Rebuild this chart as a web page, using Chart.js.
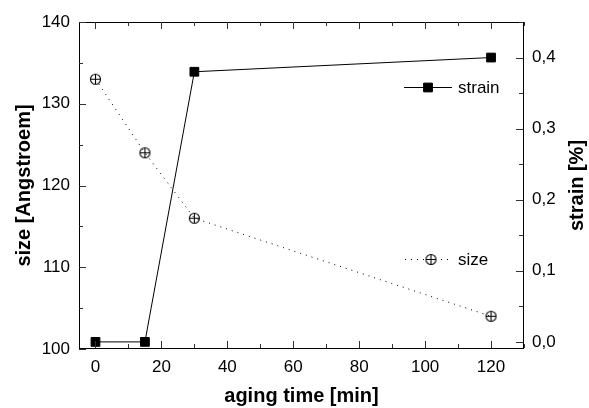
<!DOCTYPE html>
<html>
<head>
<meta charset="utf-8">
<script src="https://cdn.jsdelivr.net/npm/chart.js@4.4.0/dist/chart.umd.min.js"></script>
<style>
html, body { margin: 0; padding: 0; background: #fff; }
</style>
</head>
<body>
<canvas id="myChart" width="589" height="408"></canvas>
<script>
var agingTime = [0, 15, 30, 120];
var sizeValues = [133, 124, 116, 104];
var strainValues = [0.0, 0.0, 0.38, 0.40];
var timeTicks = [0, 20, 40, 60, 80, 100, 120];
var sizeTicks = [100, 110, 120, 130, 140];
var strainTicks = [0.0, 0.1, 0.2, 0.3, 0.4];

var fontFamily = "'Liberation Sans', Arial, sans-serif";

// circle with a plus inside, like the Origin symbol
function circlePlus() {
    var c = document.createElement('canvas');
    c.width = 13; c.height = 13;
    var g = c.getContext('2d');
    g.strokeStyle = '#000';
    g.lineWidth = 1.1;
    g.beginPath();
    g.arc(6.5, 6.5, 5, 0, Math.PI * 2);
    g.stroke();
    g.beginPath();
    g.moveTo(1.5, 6.5); g.lineTo(11.5, 6.5);
    g.moveTo(6.5, 1.5); g.lineTo(6.5, 11.5);
    g.stroke();
    return c;
}
var sizeSymbol = circlePlus();

function points(xs, ys) {
    return xs.map(function (x, i) { return { x: x, y: ys[i] }; });
}

function setTicks(values) {
    return function (scale) {
        scale.ticks = values.map(function (v) { return { value: v }; });
    };
}

// frame and inward ticks on all four sides
var framePlugin = {
    id: 'frame',
    afterDraw: function (chart) {
        var ctx = chart.ctx, a = chart.chartArea;
        var sx = chart.scales.x, sy = chart.scales.y, s2 = chart.scales.y2;
        ctx.save();
        ctx.strokeStyle = '#000';
        ctx.lineWidth = 1;
        ctx.strokeRect(Math.round(a.left) + 0.5, Math.round(a.top) + 0.5,
            Math.round(a.right - a.left) - 1, Math.round(a.bottom - a.top) - 1);

        function vticks(scale, values, x, dir) {
            var step = values[1] - values[0];
            for (var v = values[0] - step / 2; v <= scale.max + 1e-9; v += step / 2) {
                if (v < scale.min - 1e-9) continue;
                var major = values.some(function (m) { return Math.abs(m - v) < 1e-6; });
                var y = Math.round(scale.getPixelForValue(v)) + 0.5;
                ctx.beginPath();
                ctx.moveTo(x, y);
                ctx.lineTo(x + dir * (major ? 7 : 4), y);
                ctx.stroke();
            }
        }
        function hticks(scale, values, y, dir) {
            var step = values[1] - values[0];
            for (var v = values[0] - step / 2; v <= scale.max + 1e-9; v += step / 2) {
                if (v < scale.min - 1e-9) continue;
                var major = values.some(function (m) { return Math.abs(m - v) < 1e-6; });
                var x = Math.round(scale.getPixelForValue(v)) + 0.5;
                ctx.beginPath();
                ctx.moveTo(x, y);
                ctx.lineTo(x, y + dir * (major ? 7 : 4));
                ctx.stroke();
            }
        }
        ctx.strokeStyle = '#333';
        vticks(sy, sizeTicks, Math.round(a.left), 1);
        vticks(s2, strainTicks, Math.round(a.right) - 1, -1);
        hticks(sx, timeTicks, Math.round(a.bottom) - 1, -1);
        hticks(sx, timeTicks, Math.round(a.top), 1);

        // right axis title, reading bottom to top like the left one
        ctx.fillStyle = '#000';
        ctx.font = 'bold 20px ' + fontFamily;
        ctx.textAlign = 'center';
        ctx.textBaseline = 'middle';
        ctx.translate(577, (a.top + a.bottom) / 2);
        ctx.rotate(-Math.PI / 2);
        ctx.fillText('strain [%]', 0, 0);
        ctx.restore();
    }
};

// two separate legend entries placed inside the plot
var legendPlugin = {
    id: 'floatLegend',
    afterDraw: function (chart) {
        var ctx = chart.ctx;
        var entries = [
            { ds: chart.data.datasets[0], x0: 404, x1: 452, mx: 428, y: 87 },
            { ds: chart.data.datasets[1], x0: 405, x1: 452, mx: 431, y: 259 }
        ];
        ctx.save();
        entries.forEach(function (e) {
            ctx.strokeStyle = '#000';
            ctx.lineWidth = 1;
            ctx.setLineDash(e.ds.borderDash || []);
            ctx.beginPath();
            ctx.moveTo(e.x0, e.y + 0.5);
            ctx.lineTo(e.x1, e.y + 0.5);
            ctx.stroke();
            ctx.setLineDash([]);
            ctx.fillStyle = '#000';
            Chart.helpers.drawPoint(ctx, {
                pointStyle: e.ds.pointStyle,
                radius: e.ds.pointRadius,
                borderWidth: 1
            }, e.mx, e.y + 0.5);
            ctx.font = '17px ' + fontFamily;
            ctx.textBaseline = 'middle';
            ctx.fillText(e.ds.label, 458, e.y + 1);
        });
        ctx.restore();
    }
};

var tickFont = { family: fontFamily, size: 17 };
var titleFont = { family: fontFamily, size: 20, weight: 'bold' };

var ctx = document.getElementById('myChart').getContext('2d');
var myChart = new Chart(ctx, {
    type: 'line',
    data: {
        datasets: [{
            label: 'strain',
            data: points(agingTime, strainValues),
            yAxisID: 'y2',
            borderColor: '#000',
            backgroundColor: '#000',
            borderWidth: 1,
            pointStyle: 'rect',
            pointRadius: 6.2,
            pointBackgroundColor: '#000',
            pointBorderColor: '#000',
            pointBorderWidth: 1,
            tension: 0
        }, {
            label: 'size',
            data: points(agingTime, sizeValues),
            yAxisID: 'y',
            borderColor: '#000',
            borderWidth: 1,
            borderDash: [1, 5],
            pointStyle: sizeSymbol,
            pointRadius: 6,
            tension: 0
        }]
    },
    options: {
        responsive: false,
        animation: false,
        layout: { padding: { top: 22, right: 0, bottom: 0, left: 0 } },
        plugins: {
            legend: { display: false },
            tooltip: { enabled: false }
        },
        scales: {
            x: {
                type: 'linear',
                position: 'bottom',
                min: -5,
                max: 130,
                grid: { display: false, drawTicks: false },
                border: { display: false },
                afterBuildTicks: setTicks(timeTicks),
                afterFit: function (s) { s.height = 59; },
                ticks: { font: tickFont, color: '#000', padding: 8, maxRotation: 0, autoSkip: false },
                title: { display: true, text: 'aging time [min]', font: titleFont, color: '#000', padding: { top: 0, bottom: 0 } }
            },
            y: {
                type: 'linear',
                position: 'left',
                min: 100,
                max: 140,
                grid: { display: false, drawTicks: false },
                border: { display: false },
                afterBuildTicks: setTicks(sizeTicks),
                afterFit: function (s) { s.width = 79; },
                ticks: { font: tickFont, color: '#000', padding: 9 },
                title: { display: true, text: 'size [Angstroem]', font: titleFont, color: '#000', padding: { top: 12, bottom: 0 } }
            },
            y2: {
                type: 'linear',
                position: 'right',
                min: -0.01,
                max: 0.45,
                grid: { display: false, drawTicks: false },
                border: { display: false },
                afterBuildTicks: setTicks(strainTicks),
                afterFit: function (s) { s.width = 65; },
                ticks: {
                    font: tickFont, color: '#000', padding: 8,
                    callback: function (v) { return v.toFixed(1).replace('.', ','); }
                },
                title: { display: false }
            }
        }
    },
    plugins: [framePlugin, legendPlugin]
});
</script>
</body>
</html>
